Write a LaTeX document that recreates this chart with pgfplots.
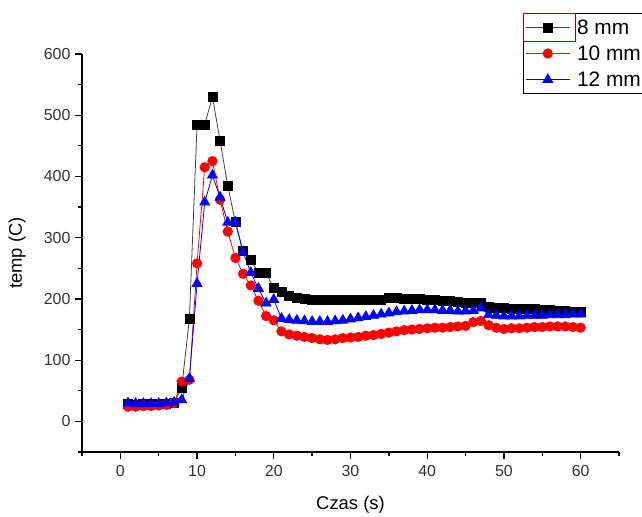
\documentclass[border=0pt]{standalone}
\usepackage{pgfplots}
\pgfplotsset{compat=1.18}
\usepackage{fontspec}
\setmainfont{Liberation Sans}

\pgfplotstableread{
x y
1 28
2 27
3 28
4 28
5 29
6 29
7 30
8 55
9 168
10 485
11 485
12 530
13 458
14 385
15 325
16 278
17 263
18 243
19 242
20 218
21 211
22 205
23 202
24 200
25 199
26 199
27 198
28 198
29 198
30 199
31 199
32 198
33 198
34 199
35 201
36 201
37 200
38 200
39 200
40 199
41 198
42 197
43 196
44 195
45 194
46 193
47 193
48 187
49 186
50 185
51 184
52 184
53 183
54 183
55 182
56 182
57 181
58 180
59 179
60 178
}\eightmm

\pgfplotstableread{
x y
1 24
2 24
3 25
4 25
5 26
6 27
7 30
8 65
9 68
10 258
11 415
12 425
13 362
14 310
15 267
16 241
17 222
18 197
19 172
20 165
21 147
22 142
23 140
24 138
25 136
26 134
27 133
28 134
29 136
30 137
31 138
32 140
33 141
34 143
35 145
36 147
37 149
38 150
39 151
40 152
41 153
42 153
43 154
44 155
45 156
46 162
47 164
48 157
49 153
50 151
51 152
52 152
53 153
54 154
55 154
56 155
57 155
58 155
59 154
60 153
}\tenmm

\pgfplotstableread{
x y
1 30
2 29
3 29
4 29
5 29
6 30
7 31
8 35
9 70
10 225
11 358
12 402
13 366
14 325
15 325
16 276
17 243
18 217
19 193
20 199
21 168
22 166
23 165
24 164
25 163
26 163
27 163
28 164
29 165
30 167
31 169
32 171
33 173
34 175
35 177
36 179
37 180
38 181
39 182
40 182
41 182
42 181
43 181
44 180
45 180
46 181
47 185
48 174
49 173
50 172
51 172
52 172
53 173
54 173
55 173
56 174
57 174
58 174
59 175
60 175
}\twelvemm

\begin{document}
\begin{tikzpicture}
\begin{axis}[
  width=537bp, height=398bp, scale only axis,
  xmin=-5, xmax=65, ymin=-50, ymax=600,
  axis x line*=bottom, axis y line*=left,
  axis line style={line width=1.3bp, black},
  xtick={0,10,...,60}, minor xtick={-5,5,...,65},
  ytick={0,100,...,600}, minor ytick={-50,50,...,550},
  tick align=outside,
  major tick length=7bp, minor tick length=4bp,
  every tick/.style={line width=1.3bp, black},
  /pgf/number format/assume math mode=true,
  ticklabel style={font=\fontsize{16}{18}\selectfont, text=black!80},
  xticklabel style={yshift=-3bp},
  yticklabel style={xshift=-1bp},
  xlabel={Czas (s)}, ylabel={temp (C)},
  label style={font=\fontsize{18.5}{21}\selectfont, text=black},
  xlabel style={at={(axis description cs:0.5,-0.133)}, anchor=center},
  ylabel style={at={(axis description cs:-0.121,0.5)}, anchor=center},
  legend style={at={(axis description cs:0.821,1.103)}, anchor=north west,
    draw=black, line width=0.8bp, fill=white,
    font=\fontsize{21}{23}\selectfont, row sep=6bp, column sep=5bp,
    inner xsep=2bp, inner ysep=4bp},
  legend cell align=left,
  legend image code/.code={\draw[mark repeat=2,mark phase=2,#1] plot coordinates {(0cm,0cm) (0.78cm,0cm) (1.55cm,0cm)};},
]
\addplot[black!75, line width=0.8bp, mark=square*, mark size=4.5bp,
  mark options={fill=black, draw=black, solid}] table {\eightmm};
\addlegendentry{8 mm}
\addplot[red, line width=0.8bp, mark=*, mark size=4.7bp,
  mark options={fill=red, draw=red, solid}] table {\tenmm};
\addlegendentry{10 mm}
\addplot[blue, line width=0.8bp, mark=triangle*, mark size=5.7bp,
  mark options={fill=blue, draw=blue, solid}] table {\twelvemm};
\addlegendentry{12 mm}
\end{axis}
\draw[red!65!black, line width=0.6bp] (441bp,439bp) rectangle (493bp,411bp);
\pgfresetboundingbox
\path[use as bounding box] (-82bp,-65bp) rectangle (560bp,452bp);
\end{tikzpicture}
\end{document}
